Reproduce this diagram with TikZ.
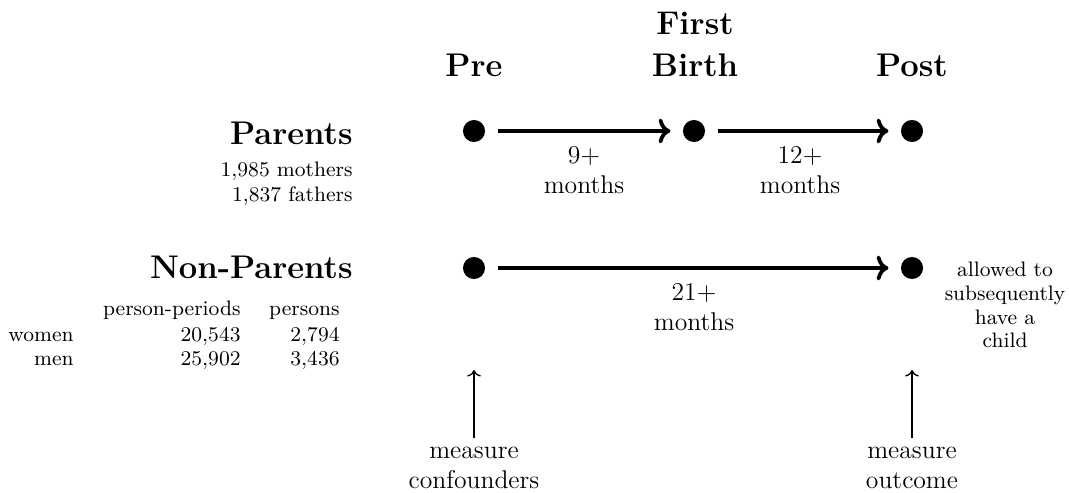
\documentclass[tikz,border=0pt]{standalone}
\usetikzlibrary{arrows.meta}
\begin{document}
\begin{tikzpicture}[x=0.4484pt,y=-0.4484pt,
  dot/.style={circle,fill=black,inner sep=0pt,minimum size=9.9pt},
  head/.style={font=\fontsize{14.7}{17}\selectfont\bfseries,inner sep=0pt},
  lab/.style={font=\fontsize{11.5}{13.4}\selectfont,inner sep=0pt,align=center},
  sm/.style={font=\fontsize{9.4}{10.6}\selectfont,inner sep=0pt},
  mainarrow/.style={->,line width=1.7pt,shorten >=5.4pt,shorten <=5.4pt},
  thinarrow/.style={->,line width=0.6pt}]
\useasboundingbox (0,0) rectangle (1069,493);
% headings
\node[head,anchor=base] (hpre) at (474,77) {Pre};
\node[head,anchor=base] (hfirst) at (695,35) {First};
\node[head,anchor=base] (hbirth) at (695,77) {Birth};
\node[head,anchor=base] (hpost) at (912,77) {Post};
% parents row
\node[head,anchor=base east] (parents) at (353,145) {Parents};
\node[sm,anchor=base east] (mothers) at (353,177) {1,985 mothers};
\node[sm,anchor=base east] (fathers) at (353,202) {1,837 fathers};
\node[dot] (p1) at (474,131) {};
\node[dot] (p2) at (694,131) {};
\node[dot] (p3) at (912,131) {};
\draw[mainarrow] (p1) -- (p2);
\draw[mainarrow] (p2) -- (p3);
\node[lab,anchor=north] (l1) at (584,146) {9+\\months};
\node[lab,anchor=north] (l2) at (800,146) {12+\\months};
% non-parents row
\node[head,anchor=base east] (nonparents) at (353,279) {Non-Parents};
\node[sm,anchor=base east] (hpp) at (241,316) {person-periods};
\node[sm,anchor=base east] (hps) at (340,316) {persons};
\node[sm,anchor=base east] (women) at (74,342) {women};
\node[sm,anchor=base east] (w1) at (241,342) {20,543};
\node[sm,anchor=base east] (w2) at (340,342) {2,794};
\node[sm,anchor=base east] (men) at (74,366) {men};
\node[sm,anchor=base east] (m1) at (241,366) {25,902};
\node[sm,anchor=base east] (m2) at (340,366) {3,436};
\node[dot] (n1) at (474,268) {};
\node[dot] (n2) at (912,268) {};
\draw[mainarrow] (n1) -- (n2);
\node[lab,anchor=north] (l3) at (694,283) {21+\\months};
\node[sm,align=center,anchor=north] (allowed) at (1005,262) {allowed to\\subsequently\\have a\\child};
% bottom
\coordinate (c1) at (474,370);
\coordinate (c2) at (912,370);
\node[lab,anchor=north] (mc) at (474,447) {measure\\confounders};
\node[lab,anchor=north] (mo) at (912,447) {measure\\outcome};
\draw[thinarrow,shorten <=4pt] (mc.north) -- (c1);
\draw[thinarrow,shorten <=4pt] (mo.north) -- (c2);
\end{tikzpicture}
\end{document}
